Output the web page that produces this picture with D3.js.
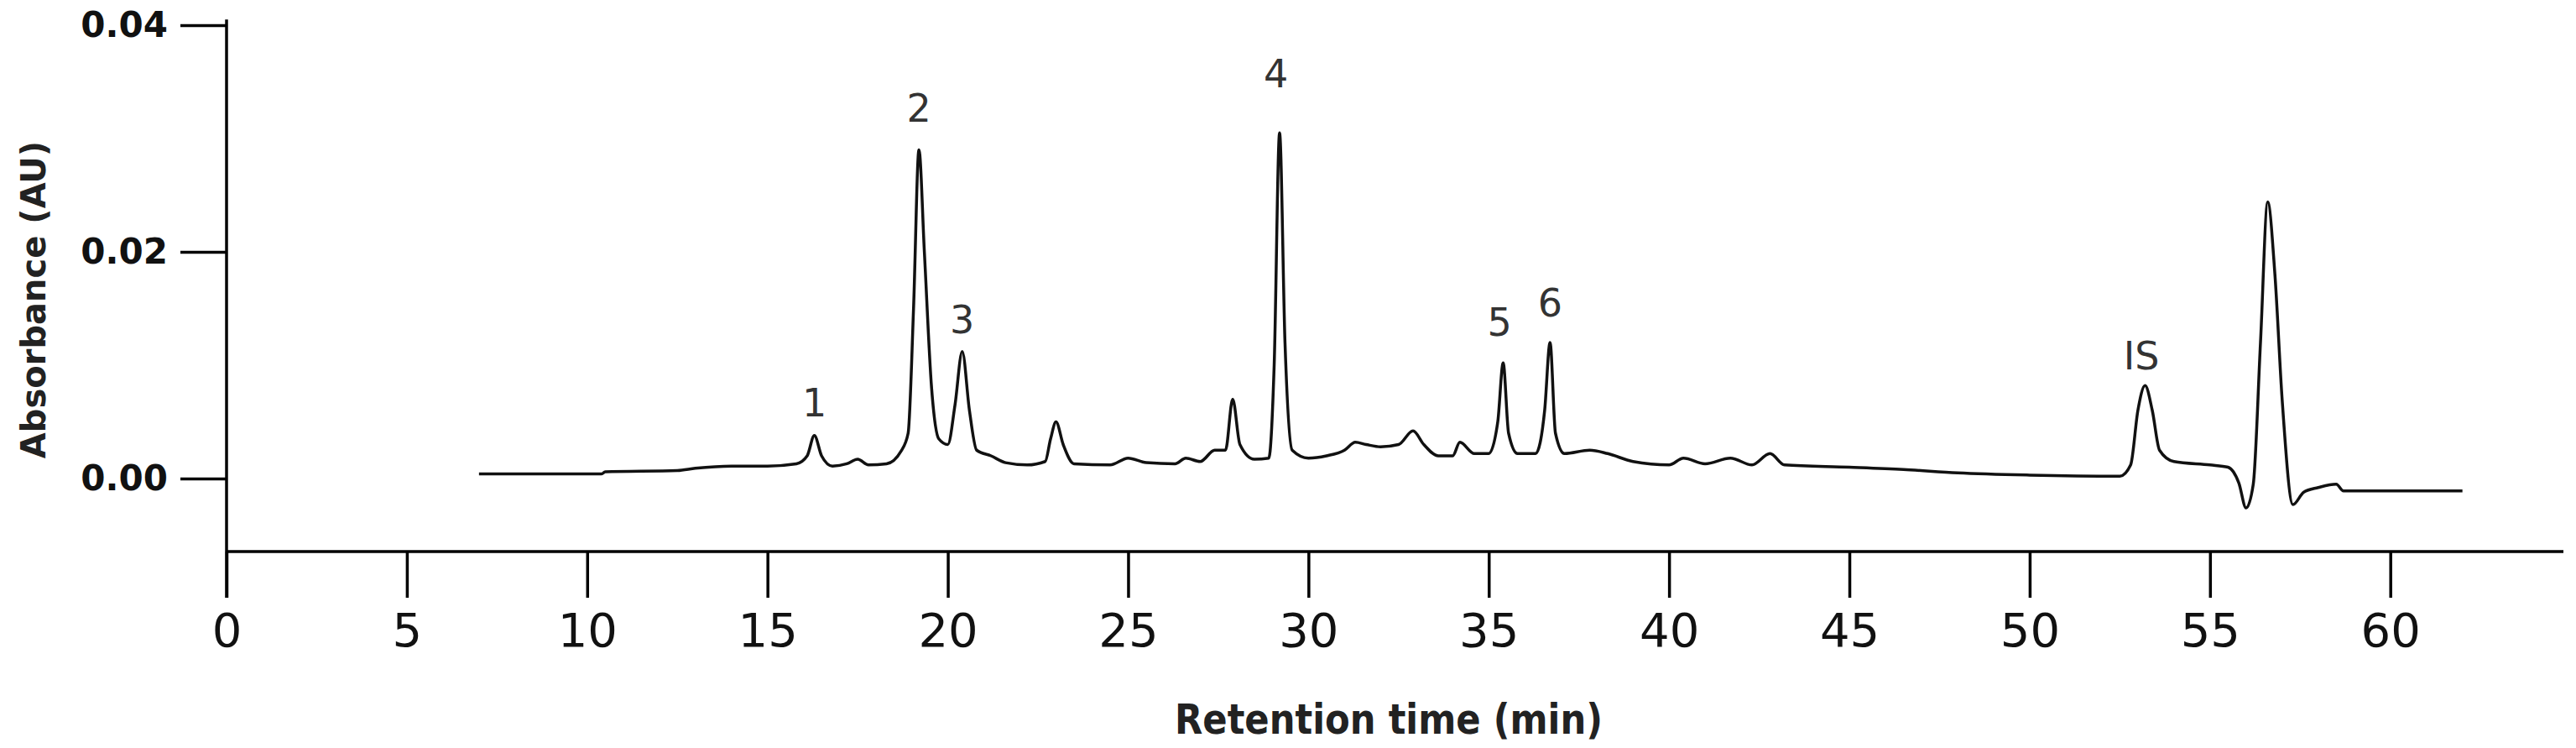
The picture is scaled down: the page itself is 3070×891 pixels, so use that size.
<!DOCTYPE html>
<html>
<head>
<meta charset="utf-8">
<script src="https://cdn.jsdelivr.net/npm/d3@7"></script>
<style>
  body { margin: 0; background: #fff; }
  text { font-family: "DejaVu Sans", sans-serif; }
</style>
</head>
<body>
<svg id="chart" width="3070" height="891"></svg>
<script>
// retention time (min)
const times = [7.0, 10.4, 10.5, 12.5, 13, 14, 15, 15.8, 16.1, 16.3, 16.5, 16.8, 17.2, 17.5, 17.8, 18.3, 18.7, 18.9, 19.05, 19.2, 19.35, 19.55, 19.75, 20.0, 20.2, 20.4, 20.6, 20.8, 21.2, 21.6, 22.2, 22.7, 22.85, 23.0, 23.2, 23.5, 24.5, 25.0, 25.5, 26.3, 26.6, 27.0, 27.4, 27.7, 27.9, 28.1, 28.5, 28.9, 29.05, 29.2, 29.35, 29.55, 30, 30.5, 31, 31.3, 31.6, 32.0, 32.5, 32.9, 33.2, 33.6, 34.0, 34.2, 34.6, 35.0, 35.25, 35.4, 35.55, 35.8, 36.3, 36.55, 36.7, 36.85, 37.1, 37.8, 38.3, 39, 40, 40.4, 41, 41.7, 42.3, 42.8, 43.2, 45, 46.5, 48, 50, 52.5, 52.8, 53.0, 53.2, 53.4, 53.6, 54, 55, 55.5, 55.8, 56.0, 56.2, 56.4, 56.6, 56.8, 57.0, 57.3, 57.6, 58.0, 58.5, 58.7, 62.0];
// absorbance (AU)
const absorb = [0.0004, 0.0004, 0.0006, 0.0007, 0.0009, 0.0011, 0.0011, 0.0013, 0.002, 0.0038, 0.002, 0.0011, 0.0013, 0.0017, 0.0012, 0.0013, 0.0024, 0.004, 0.015, 0.029, 0.02, 0.008, 0.0035, 0.003, 0.0065, 0.0112, 0.006, 0.0025, 0.002, 0.0014, 0.0012, 0.0015, 0.0035, 0.005, 0.003, 0.0013, 0.0012, 0.0018, 0.0014, 0.0013, 0.0018, 0.0015, 0.0025, 0.0025, 0.007, 0.003, 0.0017, 0.0018, 0.01, 0.0305, 0.012, 0.0025, 0.0018, 0.002, 0.0025, 0.0032, 0.003, 0.0028, 0.003, 0.0042, 0.003, 0.002, 0.002, 0.0032, 0.0022, 0.0022, 0.005, 0.0102, 0.004, 0.0022, 0.0022, 0.006, 0.012, 0.004, 0.0022, 0.0025, 0.0022, 0.0015, 0.0012, 0.0018, 0.0013, 0.0018, 0.0012, 0.0022, 0.0012, 0.001, 0.0008, 0.0005, 0.0003, 0.0002, 0.0012, 0.006, 0.0082, 0.006, 0.0025, 0.0015, 0.0012, 0.001, -0.0004, -0.0026, -0.0005, 0.012, 0.0244, 0.018, 0.007, -0.0023, -0.0012, -0.0008, -0.0005, -0.0011, -0.0011];

const peakNames = ['1', '2', '3', '4', '5', '6', 'IS'];
const peakTimes = [16.3, 19.2, 20.4, 29.1, 35.3, 36.7, 53.1];
const peakLabelY = [0.0055, 0.0315, 0.0128, 0.0345, 0.0126, 0.0143, 0.0096];

const xTicks = [0, 5, 10, 15, 20, 25, 30, 35, 40, 45, 50, 55, 60];
const yTicks = [0, 0.02, 0.04];

const svg = d3.select('#chart');

const x = d3.scaleLinear().domain([0, 64.8]).range([270, 3055]);
const y = d3.scaleLinear().domain([0, 0.04]).range([570, 30]);
const axisY = 657;
const tickLen = 55;

// x axis
svg.append('g')
	.attr('transform', `translate(0, ${axisY})`)
	.call(d3.axisBottom(x)
		.tickValues(xTicks)
		.tickSize(tickLen)
		.tickPadding(18)
		.tickFormat(d3.format('d')))
	.call(g => g.select('.domain').attr('d', `M${x(0)},0H${x.range()[1]}`))
	.call(g => g.selectAll('line, path').attr('stroke', '#000').attr('stroke-width', 3.5))
	.call(g => g.selectAll('text').attr('font-size', 56).attr('fill', '#111')
		.attr('font-family', '"DejaVu Sans", sans-serif'));

// y axis
svg.append('g')
	.attr('transform', `translate(${x(0)}, 0)`)
	.call(d3.axisLeft(y)
		.tickValues(yTicks)
		.tickSize(tickLen)
		.tickPadding(15)
		.tickFormat(d3.format('.2f')))
	.call(g => g.select('.domain').attr('d', `M0,${y(0.0405)}V${axisY + tickLen}`))
	.call(g => g.selectAll('line, path').attr('stroke', '#000').attr('stroke-width', 3.5))
	.call(g => g.selectAll('text').attr('font-size', 42).attr('font-weight', 'bold')
		.attr('fill', '#111').attr('font-family', '"DejaVu Sans", sans-serif'));

// trace
const data = times.map((t, i) => [t, absorb[i]]);
svg.append('path')
	.datum(data)
	.attr('fill', 'none')
	.attr('stroke', '#111')
	.attr('stroke-width', 3.5)
	.attr('stroke-linejoin', 'round')
	.attr('d', d3.line().x(d => x(d[0])).y(d => y(d[1])).curve(d3.curveMonotoneX));

// peak labels
svg.append('g')
	.selectAll('text')
	.data(peakNames)
	.enter().append('text')
		.attr('x', (d, i) => x(peakTimes[i]))
		.attr('y', (d, i) => y(peakLabelY[i]))
		.attr('text-anchor', 'middle')
		.attr('font-size', 46)
		.attr('fill', '#333')
		.text(d => d);

// axis titles
svg.append('text')
	.attr('x', 1655)
	.attr('y', 874)
	.attr('text-anchor', 'middle')
	.attr('font-size', 50)
	.attr('font-weight', 'bold')
	.attr('fill', '#222')
	.attr('textLength', 510)
	.attr('lengthAdjust', 'spacingAndGlyphs')
	.text('Retention time (min)');

svg.append('text')
	.attr('transform', 'translate(54, 357) rotate(-90)')
	.attr('text-anchor', 'middle')
	.attr('font-size', 40)
	.attr('font-weight', 'bold')
	.attr('fill', '#222')
	.text('Absorbance (AU)');
</script>
</body>
</html>
